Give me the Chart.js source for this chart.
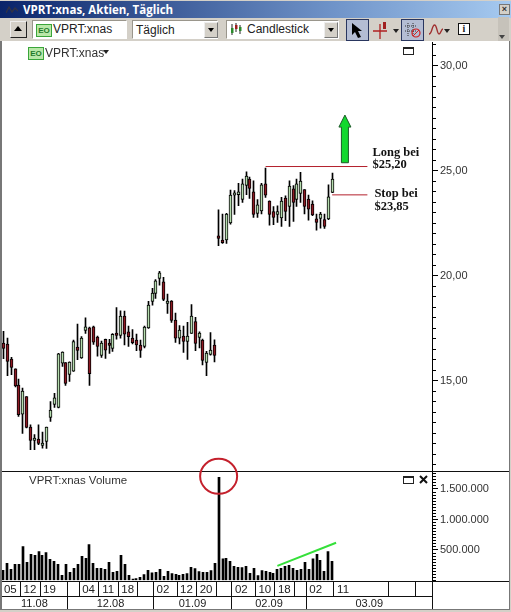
<!DOCTYPE html>
<html>
<head>
<meta charset="utf-8">
<title>VPRT:xnas</title>
<script src="https://cdn.jsdelivr.net/npm/chart.js@4"></script>
<style>
html, body { margin: 0; padding: 0; background: #d4d0c8; }
body { width: 511px; height: 612px; position: relative; overflow: hidden; font: 12px "Liberation Sans", Arial, sans-serif; color: #222; }
.abs { position: absolute; }
#title { left: 0; top: 1px; width: 511px; height: 17px; background: linear-gradient(to right, #0a246a, #6f93c8 65%, #a6caf0); color: #fff; font: bold 11.5px "Open Sans", "Liberation Sans", sans-serif; line-height: 17px; }
#title span { position: absolute; left: 23px; top: 0; }
#closeBtn { left: 499px; top: 4px; width: 9px; height: 9px; background: #d4d0c8; border: 1px solid #777; color: #333; font: bold 9px/9px "Liberation Sans"; text-align: center; }
#panel { left: 0; top: 41px; width: 509px; height: 569px; background: #fff; }
#frameL { left: 0; top: 41px; width: 2px; height: 569px; background: #777; z-index: 3; }
#frameR { left: 509px; top: 41px; width: 1px; height: 569px; background: #777; z-index: 3; }
#frameB { left: 0; top: 609px; width: 510px; height: 1px; background: #777; z-index: 3; }
canvas { display: block; }
.sunken { background: #fff; border: 1px solid #fff; border-top-color: #9a968c; border-left-color: #9a968c; box-sizing: border-box; height: 19px; line-height: 18px; font-size: 12px; }
.dropBtn { background: #d4d0c8; border: 1px solid #777; border-top-color: #eee; border-left-color: #eee; box-sizing: border-box; width: 14px; height: 16px; top: 22px; }
.dropBtn:after { content: ""; position: absolute; left: 3px; top: 5px; border: 3px solid transparent; border-top: 4px solid #000; }
.tri { border: 3px solid transparent; border-top: 4px solid #222; width: 0; height: 0; }
.eo { background: #b9e8a8; border: 1px solid #3aa53a; color: #1f7a2a; font: bold 8px/11px "Liberation Sans"; width: 14px; height: 11px; text-align: center; letter-spacing: 0; }
.lbl { font-size: 11.5px; color: #333; z-index: 2; }
.win { width: 9px; height: 5px; border: 1px solid #222; border-top-width: 2px; z-index: 2; }
</style>
</head>
<body>
<div class="abs" id="title">
  <svg class="abs" style="left:6px;top:4px" width="12" height="10"><path d="M0 8 L3 2 L6 7 L9 3 L12 6" fill="none" stroke="#334" stroke-width="1.3"/></svg>
  <span>VPRT:xnas, Aktien, Täglich</span>
</div>
<div class="abs" id="closeBtn">×</div>

<!-- Symbolleiste -->
<div class="abs" style="left:10px;top:21px;width:17px;height:17px;box-sizing:border-box;background:#d4d0c8;border:1px solid #222;border-top-color:#eee;border-left-color:#eee"></div>
<div class="abs" style="left:14px;top:26px;border:4.5px solid transparent;border-bottom:5px solid #000;border-top:0;width:0;height:0"></div>
<div class="abs sunken" style="left:32px;top:20px;width:95px"></div>
<div class="abs eo" style="left:36px;top:24px">EO</div>
<div class="abs" style="left:53px;top:22px;font-size:12px">VPRT:xnas</div>
<div class="abs sunken" style="left:132px;top:20px;width:86px;padding-left:3px">Täglich</div>
<div class="abs dropBtn" style="left:204px"></div>
<div class="abs sunken" style="left:226px;top:20px;width:113px"></div>
<svg class="abs" style="left:230px;top:22px" width="12" height="15"><path d="M2 2V13M6 1V10M10 3V12" stroke="#222"/><rect x="1" y="6" width="2.5" height="5" fill="#2a8a2a"/><rect x="5" y="3" width="2.5" height="4" fill="#a02020"/><rect x="9" y="5" width="2.5" height="4" fill="#2a8a2a"/></svg>
<div class="abs" style="left:247px;top:22px;font-size:12px">Candlestick</div>
<div class="abs dropBtn" style="left:324px"></div>
<div class="abs" style="left:346px;top:19px;width:23px;height:22px;box-sizing:border-box;background:#b4bdd3;border:1px solid #29365f"></div>
<svg class="abs" style="left:351px;top:23px" width="13" height="16"><path d="M1 0 L1 12 L4 9 L7 15 L10 14 L7 8 L11 8 Z" fill="#000"/></svg>
<svg class="abs" style="left:373px;top:21px" width="18" height="18"><path d="M0 10H14M7 3V18" stroke="#b02020" stroke-width="1.3"/><rect x="10" y="1" width="3" height="7" fill="#a02020"/></svg>
<div class="abs tri" style="left:393px;top:29px"></div>
<div class="abs" style="left:401px;top:19px;width:23px;height:22px;box-sizing:border-box;background:#b4bdd3;border:1px solid #29365f"></div>
<svg class="abs" style="left:404px;top:22px" width="18" height="17"><path d="M4 1V14M9 1V14M1 4H13M1 9H13" stroke="#333" stroke-dasharray="1 1"/><circle cx="12" cy="11" r="4" fill="none" stroke="#d02020" stroke-width="1.2"/><path d="M9 14L15 8" stroke="#d02020"/></svg>
<svg class="abs" style="left:428px;top:23px" width="16" height="14"><path d="M1 11C4 11 4 2 6.5 2S9 11 11 11 13 6 15 6" fill="none" stroke="#a03030" stroke-width="1.4"/></svg>
<div class="abs tri" style="left:444px;top:29px"></div>
<div class="abs" style="left:458px;top:23px;width:12px;height:12px;box-sizing:border-box;border:1px solid #111;background:#fff;font:bold 10px/10px 'Liberation Serif';text-align:center">i</div>
<div class="abs" style="left:498px;top:17px;width:11px;height:24px;background:#c6c2ba"></div>
<div class="abs" style="left:499px;top:35px;border:3.5px solid transparent;border-top:4px solid #444;width:0;height:0"></div>

<div class="abs" id="frameL"></div>
<div class="abs" id="frameR"></div>
<div class="abs" id="frameB"></div>
<div class="abs" id="panel"><canvas id="myChart" width="509" height="569"></canvas></div>

<!-- Beschriftung in den Panels -->
<div class="abs eo" style="left:28px;top:47px">EO</div>
<div class="abs lbl" style="left:45px;top:46px;font-size:12px">VPRT:xnas</div>
<div class="abs tri" style="left:103px;top:50px;z-index:2"></div>
<div class="abs win" style="left:403px;top:47px"></div>
<div class="abs lbl" style="left:29px;top:474px">VPRT:xnas Volume</div>
<div class="abs win" style="left:403px;top:476px"></div>
<svg class="abs" style="left:419px;top:475px;z-index:2" width="9" height="9"><path d="M1 1L8 8M8 1L1 8" stroke="#111" stroke-width="2"/></svg>

<script>
// Handelstage, inkl. leerer Tage rechts vom letzten Kurs
const days = ['05.11','06.11','07.11','10.11','11.11','12.11','13.11','14.11','17.11','18.11','19.11','20.11','21.11','24.11','25.11','26.11','28.11',
  '01.12','02.12','03.12','04.12','05.12','08.12','09.12','10.12','11.12','12.12','15.12','16.12','17.12','18.12','19.12','22.12','23.12','24.12','26.12','29.12','30.12','31.12',
  '02.01','05.01','06.01','07.01','08.01','09.01','12.01','13.01','14.01','15.01','16.01','20.01','21.01','22.01','23.01','26.01','27.01','28.01','29.01','30.01',
  '02.02','03.02','04.02','05.02','06.02','09.02','10.02','11.02','12.02','13.02','17.02','18.02','19.02','20.02','23.02','24.02','25.02','26.02','27.02',
  '02.03','03.03','04.03','05.03','06.03','09.03','10.03','11.03','12.03','13.03','16.03','17.03','18.03','19.03','20.03','23.03','24.03','25.03','26.03','27.03','30.03','31.03',
  '01.04','02.04','03.04','06.04','07.04','08.04','09.04','10.04','13.04','14.04']

const opens = [16.79,16.75,16.03,15.56,14.79,13.41,14.24,12.79,12.16,12.22,11.92,12.11,13.25,13.87,13.73,15.83,15.86,15.30,15.46,16.60,16.08,17.40,17.52,17.57,17.08,16.21,16.97,16.79,16.54,17.27,
  17.16,18.08,17.33,17.03,16.94,16.70,16.63,17.51,18.78,19.16,19.87,19.71,18.68,18.79,17.89,17.02,17.13,16.87,17.25,17.81,17.06,16.94,15.87,16.25,16.70,
  21.90,21.70,21.70,22.51,23.83,23.86,23.63,24.30,24.60,24.00,22.97,23.08,24.37,23.56,23.05,22.92,22.75,23.70,23.30,24.14,23.63,23.92,24.10,23.65,23.41,22.71,22.73,22.67,22.70,23.97]
const highs = [17.35,17.03,16.11,15.56,15.08,14.65,14.24,12.90,12.43,12.90,12.55,12.79,14.00,14.40,16.30,16.38,15.86,15.90,16.94,17.70,17.10,18.00,17.55,17.60,17.13,16.89,16.98,16.97,17.25,18.48,
  18.33,18.32,17.60,17.44,17.22,16.94,17.60,18.78,19.40,19.81,20.21,19.92,19.13,18.81,18.22,17.62,17.60,17.78,18.62,18.02,17.33,16.98,16.40,17.29,16.95,
  23.14,22.94,22.97,24.08,24.05,24.40,24.60,24.95,24.70,24.52,23.62,24.40,25.13,23.57,23.29,23.33,23.73,23.81,24.52,24.29,24.60,24.92,24.10,23.84,23.57,22.94,23.02,22.94,24.33,24.89]
const lows = [16.05,15.24,15.29,14.71,13.30,12.49,12.75,11.71,11.71,11.95,11.79,11.78,13.06,13.73,13.70,15.68,14.78,14.97,15.44,16.00,16.06,17.25,14.78,16.73,16.17,16.11,16.06,16.30,16.40,16.98,
  17.03,16.70,16.63,16.75,16.43,16.11,16.56,17.49,18.60,18.92,19.55,18.81,18.21,17.78,16.82,16.75,16.35,16.01,17.25,16.43,16.56,15.75,15.24,16.22,15.90,
  21.43,21.54,21.54,22.46,22.92,23.33,23.49,23.86,23.68,22.78,22.78,22.94,23.73,22.41,22.43,22.54,22.35,22.62,22.35,22.59,23.30,23.49,22.94,22.65,22.86,22.17,22.27,22.25,22.67,23.95]
const closes = [16.54,15.92,15.63,14.75,13.38,14.51,12.78,12.16,12.27,12.01,12.03,12.79,13.60,14.18,16.28,16.36,14.87,15.89,16.86,16.44,17.03,17.57,15.33,16.83,16.63,16.79,16.46,16.68,17.21,17.16,
  18.08,17.22,17.10,16.81,16.71,16.44,17.55,18.60,19.17,19.76,20.14,18.87,18.79,17.87,17.02,17.41,16.87,17.13,18.08,16.78,17.27,15.97,16.32,16.46,16.21,
  21.78,21.57,22.94,23.84,23.95,24.00,24.37,24.75,24.16,22.92,23.38,24.33,23.83,22.92,22.78,23.05,23.56,23.06,24.27,23.49,24.38,24.51,23.30,23.17,22.90,22.54,22.94,22.35,23.76,24.60]

const volumes = [168000,281000,184000,265000,265000,557000,297000,427000,411000,476000,411000,459000,346000,313000,265000,86000,265000,135000,200000,265000,395000,362000,589000,281000,200000,200000,184000,297000,135000,151000,411000,265000,86000,22000,32000,54000,97000,168000,124000,135000,184000,70000,151000,113000,103000,
  86000,103000,113000,216000,195000,146000,135000,135000,162000,281000,1692000,357000,362000,313000,232000,216000,211000,232000,119000,200000,81000,162000,151000,135000,119000,184000,200000,232000,249000,200000,168000,184000,297000,184000,357000,427000,330000,151000,476000,313000]

// Beschriftung der Zeitachse
const dayTickIdx = [0,5,10,17,20,25,30,35,39,45,50,55,59,65,70,75,78,85,99,106]
const dayTickLabels = ['05','12','19','','04','11','18','','02','12','20','','02','10','18','','02','11','','']
const monthStartIdx = [17,39,59,78]
const monthLabels = ['11.08','12.08','01.09','02.09','03.09']

// Achsen: Schrittweite und beschriftete Werte
const priceStep = 0.5
const priceLabels = [15, 20, 25, 30]
const volumeStep = 50000
const volumeLabels = [500000, 1000000, 1500000]

const longPrice = 25.20
const stopPrice = 23.85
const arrowFrom = 25.38
const arrowTo = 27.65

// kurze Linie zwischen zwei Handelstagen
function segment(i0, i1, v0, v1) {
  return [{ x: days[i0], y: v0 }, { x: days[i1], y: v1 }]
}

// Ticks in festem Raster, Chart.js wuerde sonst den Schritt an min/max anpassen
function stepTicks(step) {
  return s => {
    const ticks = []
    for (let n = Math.ceil(s.min / step); n * step <= s.max; n++) ticks.push({ value: n * step })
    s.ticks = ticks
  }
}

function fixAxisWidth(s) {
  s.width = 77
  s.paddingTop = 0
  s.paddingBottom = 0
}

const snapBars = {
  id: 'snapBars',
  afterDatasetsUpdate(chart) {
    chart.data.datasets.forEach((ds, i) => {
      if (ds.type === 'line') return
      chart.getDatasetMeta(i).data.forEach(bar => {
        bar.x = ds.barThickness === 2 ? Math.round(bar.x) : Math.floor(bar.x) + 0.5
      })
    })
  }
}

const decorations = {
  id: 'decorations',
  afterDraw(chart) {
    const { ctx, scales } = chart
    const x = scales.x, y = scales.y, yVol = scales.yVol
    const slot = x.getPixelForValue(1) - x.getPixelForValue(0)
    const sep = i => Math.round(x.getPixelForValue(i) - slot / 2 - 1) + 0.5
    const rowTop = Math.round(x.top) + 0.5
    const rowMid = rowTop + 15
    const rowEnd = 568.5

    ctx.save()
    ctx.strokeStyle = '#111'
    ctx.lineWidth = 1
    ctx.beginPath()
    // Trennlinie Kurs / Volumen
    ctx.moveTo(0, Math.round(y.bottom) + 0.5); ctx.lineTo(509, Math.round(y.bottom) + 0.5)
    // Zeitachse
    ctx.moveTo(0, rowTop); ctx.lineTo(509, rowTop)
    ctx.moveTo(0, rowMid); ctx.lineTo(x.right, rowMid)
    ctx.moveTo(x.right + 0.5, rowTop); ctx.lineTo(x.right + 0.5, rowEnd)
    dayTickIdx.slice(1).forEach(i => { ctx.moveTo(sep(i), rowTop); ctx.lineTo(sep(i), rowMid) })
    monthStartIdx.forEach(i => { ctx.moveTo(sep(i), rowMid); ctx.lineTo(sep(i), rowEnd) })
    ctx.stroke()

    // Monatszeile
    ctx.fillStyle = '#222'
    ctx.font = '11px "Liberation Sans"'
    ctx.textAlign = 'center'
    ctx.textBaseline = 'middle'
    const edges = [x.left, ...monthStartIdx.map(sep), x.right]
    monthLabels.forEach((m, i) => ctx.fillText(m, (edges[i] + edges[i + 1]) / 2, rowMid + 7.5))

    // Pfeil nach oben
    const ax = x.getPixelForValue(87) + 1
    const tip = y.getPixelForValue(arrowTo), base = y.getPixelForValue(arrowFrom)
    ctx.beginPath()
    ctx.moveTo(ax, tip)
    ctx.lineTo(ax + 6, tip + 12); ctx.lineTo(ax + 3.5, tip + 12); ctx.lineTo(ax + 3.5, base)
    ctx.lineTo(ax - 3.5, base); ctx.lineTo(ax - 3.5, tip + 12); ctx.lineTo(ax - 6, tip + 12)
    ctx.closePath()
    ctx.fillStyle = '#12d82e'
    ctx.fill()
    ctx.strokeStyle = '#1c5a28'
    ctx.stroke()

    // Kreis um die Volumenspitze
    ctx.beginPath()
    ctx.ellipse(x.getPixelForValue(55), yVol.getPixelForValue(volumes[55]) - 1, 18.5, 17.5, 0, 0, Math.PI * 2)
    ctx.strokeStyle = '#c4202c'
    ctx.lineWidth = 2
    ctx.stroke()

    // Long / Stop Texte
    const lx = x.getPixelForValue(93)
    ctx.fillStyle = '#111'
    ctx.font = 'bold 12.5px "Liberation Serif"'
    ctx.textAlign = 'left'
    ctx.textBaseline = 'alphabetic'
    const ly = y.getPixelForValue(longPrice), sy = y.getPixelForValue(stopPrice)
    ctx.fillText('Long bei', lx + 5, ly - 11)
    ctx.fillText('$25,20', lx + 5, ly + 1)
    ctx.fillText('Stop bei', lx + 7, sy + 2)
    ctx.fillText('$23,85', lx + 7, sy + 15)
    ctx.restore()
  }
}

const ctx = document.getElementById('myChart').getContext('2d')
new Chart(ctx, {
  type: 'bar',
  data: {
    labels: days,
    datasets: [
      { type: 'line', yAxisID: 'y', data: segment(67, 93, longPrice, longPrice), borderColor: '#b3202c', borderWidth: 1, pointRadius: 0, order: 0 },
      { type: 'line', yAxisID: 'y', data: segment(84, 93, stopPrice, stopPrice), borderColor: '#b3202c', borderWidth: 1, pointRadius: 0, order: 0 },
      { type: 'line', yAxisID: 'yVol', data: segment(70, 85, 240000, 618000), borderColor: '#35e03a', borderWidth: 2, pointRadius: 0, order: 0 },
      // Kerzenkoerper
      {
        yAxisID: 'y', grouped: false, order: 1, barThickness: 3, borderWidth: 1, borderSkipped: false, borderColor: '#000',
        data: opens.map((o, i) => [o, closes[i]]),
        backgroundColor: opens.map((o, i) => closes[i] > o ? '#b5dcae' : '#8e1a24')
      },
      // Dochte
      { yAxisID: 'y', grouped: false, order: 2, barThickness: 1, backgroundColor: '#000', data: lows.map((l, i) => [l, highs[i]]) },
      // Volumen
      { yAxisID: 'yVol', grouped: false, order: 3, barThickness: 2, backgroundColor: '#000', data: volumes }
    ]
  },
  options: {
    responsive: false,
    animation: false,
    events: [],
    layout: { padding: { left: 1.35, top: 1, right: 0, bottom: 0 } },
    plugins: { legend: { display: false }, tooltip: { enabled: false } },
    scales: {
      x: {
        grid: { display: false, drawTicks: false },
        border: { display: false },
        afterBuildTicks: s => { s.ticks = dayTickIdx.map(i => ({ value: i })) },
        afterFit: s => { s.height = 29.5; s.paddingLeft = 0; s.paddingRight = 0 },
        ticks: {
          autoSkip: false, maxRotation: 0, padding: 2, labelOffset: 7, color: '#222',
          font: { family: 'Liberation Sans', size: 11.5 },
          callback: (value, index) => dayTickLabels[index]
        }
      },
      y: {
        position: 'right', stack: 'panels', stackWeight: 429,
        min: 10.70, max: 31.13,
        afterBuildTicks: stepTicks(priceStep),
        afterFit: fixAxisWidth,
        border: { color: '#000' },
        grid: {
          drawOnChartArea: false, tickLength: 6, tickColor: '#000',
          tickBorderDash: c => c.tick && priceLabels.includes(c.tick.value) ? [] : [3, 10]
        },
        ticks: {
          autoSkip: false, padding: 2, color: '#333',
          font: { family: 'Liberation Sans', size: 11 },
          callback: v => priceLabels.includes(v) ? v.toFixed(2).replace('.', ',') : ''
        }
      },
      yVol: {
        position: 'right', stack: 'panels', stackWeight: 109.5,
        min: 0, max: 1795000,
        afterBuildTicks: stepTicks(volumeStep),
        afterFit: fixAxisWidth,
        border: { color: '#000' },
        grid: {
          drawOnChartArea: false, tickLength: 6, tickColor: '#000',
          tickBorderDash: c => c.tick && volumeLabels.includes(c.tick.value) ? [] : [3, 10]
        },
        ticks: {
          autoSkip: false, padding: 2, color: '#333',
          font: { family: 'Liberation Sans', size: 11 },
          callback: v => volumeLabels.includes(v) ? v.toLocaleString('de-DE') : ''
        }
      }
    }
  },
  plugins: [snapBars, decorations]
})
</script>
</body>
</html>
